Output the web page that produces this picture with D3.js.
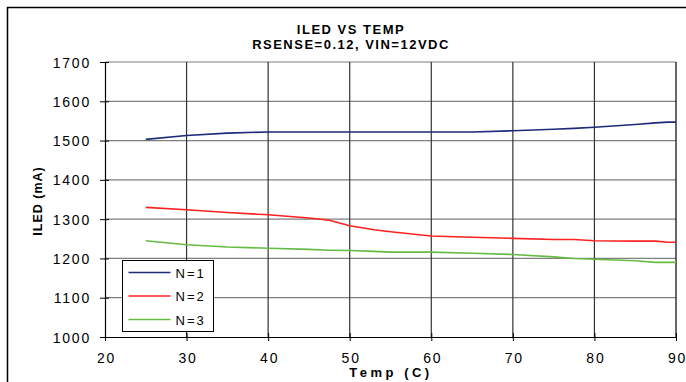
<!DOCTYPE html>
<meta charset="utf-8">
<title>ILED vs Temp</title>
<script src="https://d3js.org/d3.v7.min.js"></script>
<style>
  body { margin: 0; background: #fff; }
  text { font-family: Arial, "Liberation Sans", sans-serif; fill: #000; }
  .tick text { font-size: 14px; letter-spacing: 1.8px; }
  text.title { font-size: 13px; font-weight: bold; text-anchor: middle; letter-spacing: 1.5px; }
  text.label { font-weight: bold; text-anchor: middle; }
  text.legend { font-size: 13px; letter-spacing: 2px; }
</style>
<div id="chart"></div>
<script>
// temperatures (C) where readings were taken
var temps = [25, 30, 35, 40, 45, 47.5, 50, 53, 55, 60, 65, 70, 75, 77.5, 80, 85, 87.5, 89, 90];
// ILED (mA) for each string length
var n1 = [1503, 1513, 1519, 1522, 1522, 1522, 1522, 1522, 1522, 1522, 1522, 1525, 1529, 1531, 1534, 1541, 1545, 1547, 1547];
var n2 = [1330, 1324, 1317, 1311, 1303, 1297, 1283, 1273, 1268, 1257, 1254, 1251, 1248, 1248, 1245, 1244, 1244, 1241, 1241];
var n3 = [1245, 1235, 1229, 1226, 1223, 1221, 1220, 1218, 1216, 1216, 1213, 1210, 1204, 1200, 1198, 1194, 1190, 1190, 1190];
var seriesNames = ["N=1", "N=2", "N=3"];
var seriesColors = ["#1f2a7a", "#ff2020", "#66bb44"];
var xTicks = [20, 30, 40, 50, 60, 70, 80, 90];
var yTicks = [1000, 1100, 1200, 1300, 1400, 1500, 1600, 1700];

var W = 686, H = 382;
var margin = {top: 62, right: 10, bottom: 45, left: 105};
var width = 676 - margin.left,
    height = 337 - margin.top;

var svg = d3.select("#chart").append("svg")
    .attr("width", W)
    .attr("height", H);

// outer frame (only top and left visible in the original)
svg.append("path")
    .attr("d", "M7.5," + H + "V7.5H" + W)
    .attr("fill", "none")
    .attr("stroke", "#000")
    .attr("stroke-width", 1.5);

svg.append("text").attr("class", "title").attr("x", 351).attr("y", 34).text("ILED VS TEMP");
svg.append("text").attr("class", "title").attr("x", 351).attr("y", 49).text("RSENSE=0.12, VIN=12VDC");

var g = svg.append("g").attr("transform", "translate(" + margin.left + "," + margin.top + ")");

var x = d3.scaleLinear().domain([20, 90]).range([0, width]);
var y = d3.scaleLinear().domain([1000, 1700]).range([height, 0]);

// grid
g.selectAll("line.hgrid").data(yTicks.slice(1))
  .enter().append("line")
    .attr("class", "hgrid")
    .attr("x1", 0).attr("x2", width)
    .attr("y1", function(d) { return y(d); })
    .attr("y2", function(d) { return y(d); })
    .attr("stroke", "#7f7f7f")
    .attr("stroke-width", 1.2);

g.selectAll("line.vgrid").data(xTicks.slice(1))
  .enter().append("line")
    .attr("class", "vgrid")
    .attr("x1", function(d) { return x(d); })
    .attr("x2", function(d) { return x(d); })
    .attr("y1", 0).attr("y2", height)
    .attr("stroke", function(d) { return d == 90 ? "#000" : "#333"; })
    .attr("stroke-width", 1.2);

// axes
var fmt = d3.format("d");
var xAxis = g.append("g")
    .attr("transform", "translate(0," + height + ")")
    .call(d3.axisBottom(x).tickValues(xTicks).tickFormat(fmt).tickSize(5).tickSizeOuter(0));
var yAxis = g.append("g")
    .call(d3.axisLeft(y).tickValues(yTicks).tickFormat(fmt).tickSize(5).tickSizeOuter(0).tickPadding(9));
xAxis.select(".domain").attr("stroke", "#000").attr("stroke-width", 1.2);
yAxis.select(".domain").attr("stroke", "#000").attr("stroke-width", 1.2);
xAxis.selectAll(".tick line").attr("stroke", "#000").attr("y1", -4).attr("y2", 4);
yAxis.selectAll(".tick line").attr("stroke", "#000").attr("x1", 4).attr("x2", -5);
xAxis.selectAll(".tick text").attr("y", 26).attr("dy", 0).attr("dx", 1);
yAxis.selectAll(".tick text").attr("dy", "0.36em");

// lines
var line = d3.line()
    .x(function(d, i) { return x(temps[i]); })
    .y(function(d) { return y(d); });

[n1, n2, n3].forEach(function(s, k) {
  g.append("path")
    .datum(s)
    .attr("d", line)
    .attr("fill", "none")
    .attr("stroke", seriesColors[k])
    .attr("stroke-width", 1.6);
});

// axis titles
svg.append("text").attr("class", "label")
    .attr("transform", "translate(41.5,201) rotate(-90)")
    .attr("font-size", 12.5)
    .attr("letter-spacing", "1px")
    .text("ILED (mA)");
svg.append("text").attr("class", "label")
    .attr("x", 391).attr("y", 377)
    .attr("font-size", 13)
    .attr("letter-spacing", "3.5px")
    .text("Temp (C)");

// legend
var lg = svg.append("g").attr("transform", "translate(122.5,260.5)");
lg.append("rect").attr("width", 91).attr("height", 71)
    .attr("fill", "#fff").attr("stroke", "#000").attr("stroke-width", 1);
seriesNames.forEach(function(name, i) {
  var yy = 12 + i * 23.5;
  lg.append("line").attr("x1", 6).attr("x2", 48).attr("y1", yy).attr("y2", yy)
    .attr("stroke", seriesColors[i]).attr("stroke-width", 1.6);
  lg.append("text").attr("class", "legend").attr("x", 53).attr("y", yy + 5).text(name);
});
</script>
